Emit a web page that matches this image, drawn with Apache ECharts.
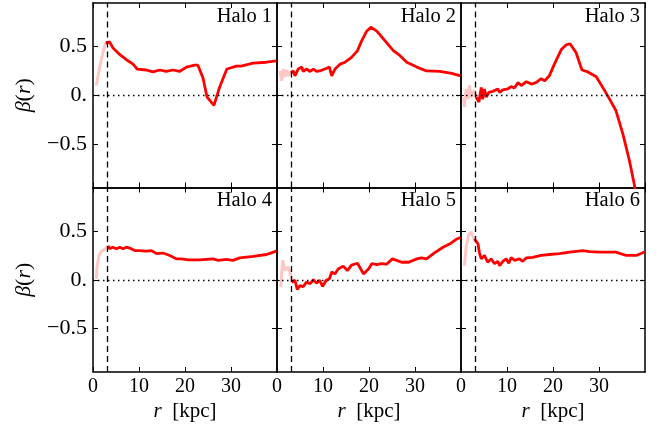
<!DOCTYPE html>
<html>
<head>
<meta charset="utf-8">
<script src="https://cdn.jsdelivr.net/npm/echarts@6/dist/echarts.min.js"></script>
<style>
  html, body { margin: 0; padding: 0; background: #fff; }
  #chart { width: 664px; height: 427px; }
</style>
</head>
<body>
<div id="chart"></div>
<script>
// inner (pale) and outer (red) beta(r) profiles, [r in kpc, beta]
const halo1Inner = [[0.7, 0.1], [1.5, 0.3], [2.2, 0.45], [2.75, 0.54]]
const halo1 = [[2.75, 0.54], [3.6, 0.55], [4.3, 0.49], [5.8, 0.42], [7.6, 0.355], [8.7, 0.32], [9.6, 0.27], [11.6, 0.26], [13, 0.24], [14.5, 0.26], [15.9, 0.245], [17.4, 0.26], [18.8, 0.245], [20.3, 0.29], [22.1, 0.31], [22.8, 0.31], [23.9, 0.18], [24.8, -0.02], [26.3, -0.105], [27.5, 0.08], [29.1, 0.27], [31.2, 0.3], [32.2, 0.3], [34.8, 0.33], [37.7, 0.34], [39.9, 0.355]]

const halo2Inner = [[0.65, 0.25], [1, 0.15], [1.4, 0.27], [1.75, 0.19], [2.1, 0.26], [2.5, 0.2], [3, 0.235]]
const halo2 = [[3, 0.235], [3.55, 0.25], [3.9, 0.2], [4.6, 0.27], [5.4, 0.29], [5.7, 0.245], [6.4, 0.27], [7.2, 0.245], [7.9, 0.27], [8.6, 0.245], [9.3, 0.25], [10.4, 0.27], [11.4, 0.29], [11.9, 0.2], [12.6, 0.27], [13.7, 0.32], [14.8, 0.34], [16.2, 0.39], [17.5, 0.46], [18.4, 0.56], [19.5, 0.66], [20.4, 0.7], [21.7, 0.66], [23.5, 0.56], [25.3, 0.46], [26.7, 0.41], [28.2, 0.34], [30.4, 0.29], [32.5, 0.25], [35.4, 0.245], [38, 0.225], [39.9, 0.2]]

const halo3Inner = [[0.55, -0.02], [0.75, -0.12], [1.1, 0.065], [1.5, -0.04], [1.85, 0.1], [2.2, -0.02], [2.9, 0.05], [3.3, -0.02]]
const halo3 = [[3.3, -0.02], [3.9, -0.07], [4.4, 0.08], [4.7, -0.04], [5.1, 0.065], [5.5, -0.02], [6.05, 0.03], [6.9, 0.04], [8, 0.065], [8.4, 0.03], [9.1, 0.055], [10.2, 0.065], [10.9, 0.09], [11.6, 0.075], [12.4, 0.13], [13.1, 0.1], [14.2, 0.14], [15.3, 0.115], [16.3, 0.13], [17.4, 0.17], [18.2, 0.15], [19.2, 0.2], [20.3, 0.32], [21.8, 0.47], [22.9, 0.52], [23.7, 0.53], [25, 0.44], [26.3, 0.26], [27.6, 0.24], [29.4, 0.19], [31.2, 0.05], [32.3, -0.04], [33.7, -0.16], [35.2, -0.4], [36.6, -0.67], [37.7, -0.925], [38.1, -1.08]]

const halo4Inner = [[0.7, 0.01], [0.87, 0.13], [1.3, 0.25], [1.8, 0.29], [2.75, 0.32], [3.3, 0.35]]
const halo4 = [[3.3, 0.35], [3.6, 0.32], [4.3, 0.335], [5.1, 0.32], [5.8, 0.335], [6.5, 0.32], [7.2, 0.335], [8.3, 0.32], [9.1, 0.3], [10.1, 0.3], [11.6, 0.295], [12.7, 0.3], [13.8, 0.27], [15.2, 0.275], [16.7, 0.25], [18.1, 0.215], [19.2, 0.215], [20.7, 0.205], [23.2, 0.205], [26.1, 0.215], [27.2, 0.2], [29, 0.21], [30.4, 0.2], [31.9, 0.225], [34.8, 0.24], [37.7, 0.26], [39.9, 0.295]]

const halo5Inner = [[0.8, -0.075], [1.23, 0.2], [1.74, 0.095], [2.46, 0.13], [2.97, 0.06], [3.2, -0.025]]
const halo5 = [[3.2, -0.025], [3.9, -0.005], [4.4, -0.1], [5, -0.06], [5.7, -0.07], [6.4, -0.025], [7.2, -0.04], [7.9, 0], [8.6, -0.035], [9.3, -0.005], [9.9, -0.07], [10.7, -0.005], [11.4, 0.01], [11.9, 0.08], [12.6, 0.06], [13.3, 0.11], [14.4, 0.14], [15.3, 0.095], [16.2, 0.15], [17.5, 0.17], [18.8, 0.06], [19.9, 0.11], [20.6, 0.165], [21.7, 0.155], [22.7, 0.165], [23.8, 0.16], [25.1, 0.215], [26, 0.2], [27.1, 0.18], [28.6, 0.18], [30.4, 0.215], [31.4, 0.225], [32.5, 0.215], [34.3, 0.28], [36.1, 0.335], [37.6, 0.37], [39.1, 0.42], [39.9, 0.435]]

const halo6Inner = [[0.76, 0.145], [1.1, 0.335], [1.7, 0.47], [2.2, 0.49], [2.7, 0.435], [2.9, 0.42]]
const halo6 = [[2.9, 0.42], [3.7, 0.37], [4, 0.28], [4.4, 0.215], [5.1, 0.25], [5.8, 0.18], [6.55, 0.215], [7.3, 0.165], [8, 0.19], [8.4, 0.145], [9.1, 0.19], [9.8, 0.215], [10.4, 0.17], [10.9, 0.23], [11.6, 0.2], [12.7, 0.215], [13.4, 0.19], [14.2, 0.225], [15.6, 0.23], [17.4, 0.25], [19.2, 0.26], [21.4, 0.27], [23.6, 0.285], [26.5, 0.3], [27.9, 0.29], [30.1, 0.285], [32.3, 0.285], [33.7, 0.285], [35.9, 0.25], [38.1, 0.25], [39.9, 0.285]]

const haloNames = ['Halo 1', 'Halo 2', 'Halo 3', 'Halo 4', 'Halo 5', 'Halo 6']
const innerData = [halo1Inner, halo2Inner, halo3Inner, halo4Inner, halo5Inner, halo6Inner]
const outerData = [halo1, halo2, halo3, halo4, halo5, halo6]
const yTicks = [-0.5, 0, 0.5]
const yLabels = { '-0.5': '\u22120.5', '0': '0.', '0.5': '0.5' }
const rCut = 3

const font = 'Liberation Serif'
const panelW = 184
const panelH = 184.5
const left0 = 93
const top0 = 3

const grids = []
const xAxes = []
const yAxes = []
const series = []
const titles = []

const frameLine = { show: true, onZero: false, lineStyle: { color: '#000', width: 1.5 } }
const tick = { show: true, inside: true, length: 5, lineStyle: { color: '#000', width: 1 } }

for (let i = 0; i < 6; i++) {
  const col = i % 3
  const row = Math.floor(i / 3)
  const gl = left0 + col * panelW
  const gt = top0 + row * panelH
  grids.push({ left: gl, top: gt, width: panelW, height: panelH })
  titles.push({
    text: haloNames[i],
    right: 664 - (gl + panelW - 5),
    top: gt + 3,
    padding: 0,
    textStyle: { fontFamily: font, fontSize: 20.5, fontWeight: 'normal', color: '#000' }
  })

  // bottom x axis
  xAxes.push({
    gridIndex: i, type: 'value', min: 0, max: 40, interval: 10, position: 'bottom',
    axisLine: frameLine, axisTick: tick, splitLine: { show: false },
    axisLabel: {
      show: row === 1, showMaxLabel: false, margin: 5,
      fontFamily: font, fontSize: 20, color: '#000'
    },
    name: row === 1 ? '{i|r}  [kpc]' : '',
    nameLocation: 'middle', nameGap: 29,
    nameTextStyle: { fontFamily: font, fontSize: 21, color: '#000', rich: { i: { fontFamily: font, fontSize: 21, fontStyle: 'italic' } } }
  })
  // top x axis (ticks only)
  xAxes.push({
    gridIndex: i, type: 'value', min: 0, max: 40, interval: 10, position: 'top',
    axisLine: frameLine, axisTick: tick, axisLabel: { show: false }, splitLine: { show: false }
  })
  // left y axis
  yAxes.push({
    gridIndex: i, type: 'value', min: -0.95, max: 0.95, position: 'left',
    axisLine: frameLine,
    axisTick: Object.assign({ customValues: yTicks }, tick),
    splitLine: { show: false },
    axisLabel: {
      show: col === 0, customValues: yTicks, margin: 6,
      fontFamily: font, fontSize: 22, color: '#000',
      formatter: v => yLabels[String(Math.round(v * 10) / 10)]
    },
    name: col === 0 ? '{i|\u03b2}({i|r})' : '',
    nameLocation: 'middle', nameGap: 58, nameRotate: 90,
    nameTextStyle: { fontFamily: font, fontSize: 22, color: '#000', rich: { i: { fontFamily: font, fontSize: 22, fontStyle: 'italic' } } }
  })
  // right y axis (ticks only)
  yAxes.push({
    gridIndex: i, type: 'value', min: -0.95, max: 0.95, position: 'right',
    axisLine: frameLine,
    axisTick: Object.assign({ customValues: yTicks }, tick),
    axisLabel: { show: false }, splitLine: { show: false }
  })

  series.push({
    type: 'line', xAxisIndex: 2 * i, yAxisIndex: 2 * i,
    data: innerData[i], symbol: 'none', clip: true,
    lineStyle: { color: '#ffc6c6', width: 3 }, z: 2,
    markLine: {
      silent: true, symbol: 'none', label: { show: false },
      data: [
        { xAxis: rCut, lineStyle: { type: [6, 4], color: '#000', width: 1.3 } },
        { yAxis: 0, lineStyle: { type: [1.5, 3.5], color: '#000', width: 1.3 } }
      ]
    }
  })
  series.push({
    type: 'line', xAxisIndex: 2 * i, yAxisIndex: 2 * i,
    data: outerData[i], symbol: 'none', clip: true,
    lineStyle: { color: '#ff0000', width: 2.8 }, z: 3
  })
}

const chart = echarts.init(document.getElementById('chart'), null, { renderer: 'canvas' })
chart.setOption({
  animation: false,
  backgroundColor: '#fff',
  title: titles,
  grid: grids,
  xAxis: xAxes,
  yAxis: yAxes,
  series: series
})
</script>
</body>
</html>
